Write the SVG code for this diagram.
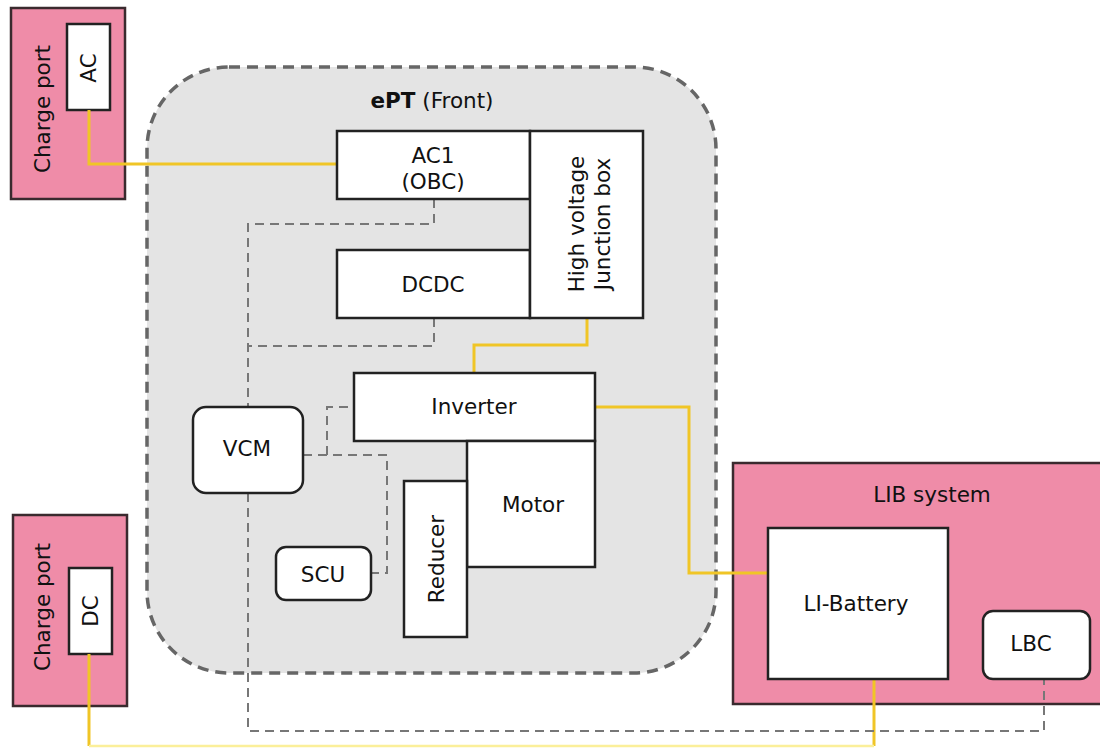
<svg xmlns="http://www.w3.org/2000/svg" width="1100" height="751" viewBox="0 0 1100 751">
<style>
text{font-family:"DejaVu Sans","Liberation Sans",sans-serif;font-size:21.5px;fill:#111}
.box{fill:#fff;stroke:#222;stroke-width:2.5}
.pink{fill:#ef8ca8;stroke:#3a2a2e;stroke-width:2.5}
.hv{fill:none;stroke:#f0c526;stroke-width:3}
.sig{fill:none;stroke:#777;stroke-width:2;stroke-dasharray:9 6}
</style>
<rect width="1100" height="751" fill="#fff"/>
<g id="ePT">
<rect x="147" y="67" width="569" height="606" rx="82" ry="82" fill="#e4e4e4" stroke="#666" stroke-width="3.5" stroke-dasharray="11 7"/>
<text x="432" y="108" text-anchor="middle"><tspan font-weight="bold">ePT</tspan> (Front)</text>
</g>
<g id="charge-port-ac">
<rect class="pink" x="11" y="8" width="114" height="191"/>
<text transform="translate(50,109) rotate(-90)" text-anchor="middle">Charge port</text>
<rect class="box" x="67" y="24" width="43" height="86"/>
<text transform="translate(96,68) rotate(-90)" text-anchor="middle">AC</text>
</g>
<g id="charge-port-dc">
<rect class="pink" x="13" y="515" width="114" height="191"/>
<text transform="translate(50,607) rotate(-90)" text-anchor="middle">Charge port</text>
<rect class="box" x="69" y="568" width="43" height="86"/>
<text transform="translate(98,611) rotate(-90)" text-anchor="middle">DC</text>
</g>
<g id="lib-system">
<rect class="pink" x="733" y="463" width="372" height="241"/>
<text x="932" y="502" text-anchor="middle">LIB system</text>
</g>
<g id="connectors">
<polyline class="hv" points="89,110 89,164 337,164"/>
<polyline class="hv" points="587,318 587,345 474,345 474,373"/>
<polyline class="hv" points="595,407 689,407 689,573 768,573"/>
<polyline class="hv" points="874,679 874,746"/>
<polyline class="hv" points="89,654 89,746"/>
<polyline fill="none" stroke="#fbef9a" stroke-width="2.5" points="89,746 874,746"/>
<polyline class="sig" points="434,199 434,224 248,224 248,407"/>
<polyline class="sig" points="434,318 434,346 248,346"/>
<polyline class="sig" points="303,455 387,455 387,573 371,573"/>
<polyline class="sig" points="327,455 327,407 354,407"/>
<polyline class="sig" points="248,493 248,731 1044,731 1044,679"/>
</g>
<g id="ac1">
<rect class="box" x="337" y="131" width="193" height="68"/>
<text x="433" y="163" text-anchor="middle">AC1</text>
<text x="433" y="189" text-anchor="middle">(OBC)</text>
</g>
<g id="dcdc">
<rect class="box" x="337" y="250" width="193" height="68"/>
<text x="433" y="292" text-anchor="middle">DCDC</text>
</g>
<g id="hv-junction-box">
<rect class="box" x="530" y="131" width="113" height="187"/>
<text transform="translate(584,224) rotate(-90)" text-anchor="middle">High voltage</text>
<text transform="translate(610,224) rotate(-90)" text-anchor="middle">Junction box</text>
</g>
<g id="inverter">
<rect class="box" x="354" y="373" width="241" height="68"/>
<text x="474" y="414" text-anchor="middle">Inverter</text>
</g>
<g id="motor">
<rect class="box" x="467" y="441" width="128" height="126"/>
<text x="533" y="512" text-anchor="middle">Motor</text>
</g>
<g id="reducer">
<rect class="box" x="404" y="481" width="63" height="156"/>
<text transform="translate(444,559) rotate(-90)" text-anchor="middle">Reducer</text>
</g>
<g id="vcm">
<rect class="box" x="193" y="407" width="110" height="86" rx="13"/>
<text x="247" y="456" text-anchor="middle">VCM</text>
</g>
<g id="scu">
<rect class="box" x="276" y="547" width="95" height="53" rx="10"/>
<text x="323" y="582" text-anchor="middle">SCU</text>
</g>
<g id="li-battery">
<rect class="box" x="768" y="528" width="180" height="151"/>
<text x="856" y="611" text-anchor="middle">LI-Battery</text>
</g>
<g id="lbc">
<rect class="box" x="983" y="611" width="107" height="68" rx="10"/>
<text x="1031" y="651" text-anchor="middle">LBC</text>
</g>
</svg>
